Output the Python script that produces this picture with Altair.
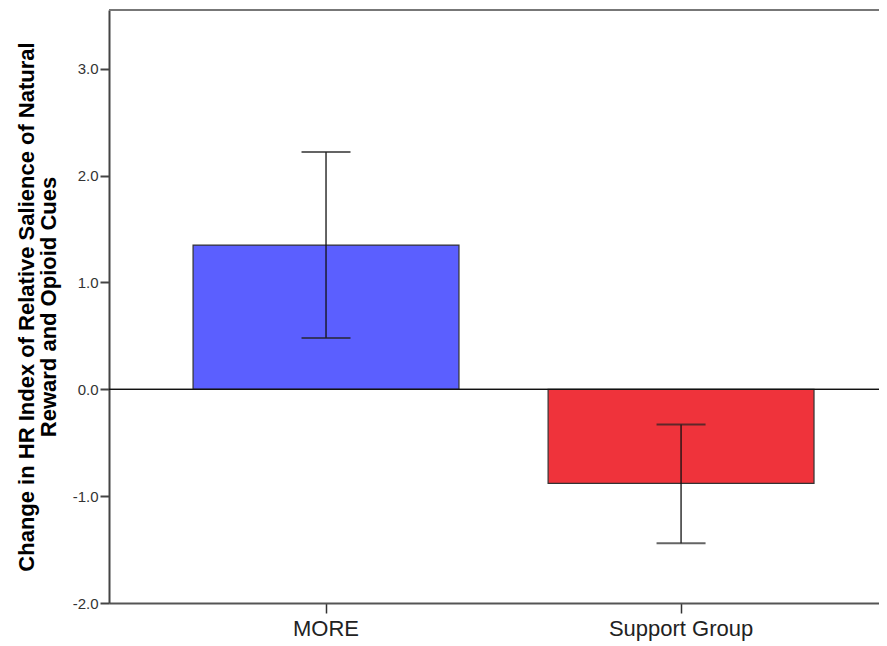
import altair as alt
import pandas as pd

groups = ["MORE", "Support Group"]
means = [1.35, -0.88]
lower = [0.48, -1.44]
upper = [2.22, -0.33]
colors = ["#5B5FFF", "#EF333B"]

df = pd.DataFrame({"group": groups, "mean": means, "lo": lower, "hi": upper, "color": colors})
top_df = pd.DataFrame({"top": [3.55]})

x_enc = alt.X("group:N", sort=groups, title=None,
              scale=alt.Scale(paddingInner=0.251, paddingOuter=0.2099, align=0.564),
              axis=alt.Axis(labelAngle=0, labelFontSize=22, labelColor="#222", labelFont="Liberation Sans",
                            tickSize=10, tickColor="#333", tickWidth=1.5, domainColor="#555", domainWidth=2,
                            labelPadding=5))
y_scale = alt.Scale(domain=[-2, 3.55], nice=False, zero=False)

bars = alt.Chart(df).mark_bar(stroke="#333", strokeWidth=1.2).encode(
    x=x_enc,
    y=alt.Y("mean:Q", scale=y_scale,
            title=["Change in HR Index of Relative Salience of Natural", "Reward and Opioid Cues"],
            axis=alt.Axis(values=[-2, -1, 0, 1, 2, 3], format=".1f", grid=False,
                          labelExpr="replace(datum.label, '\u2212', '-')",
                          labelFontSize=15, labelColor="#333", labelFont="Liberation Sans",
                          tickSize=9, tickColor="#444", tickWidth=2, domainColor="#444", domainWidth=2,
                          titleFontSize=22, titleFont="Liberation Sans", titleFontWeight="bold",
                          titleColor="#000", titlePadding=12, titleLineHeight=22, labelPadding=2)),
    y2=alt.datum(0),
    color=alt.Color("color:N", scale=None),
)

top_line = alt.Chart(top_df).mark_rule(color="#777", strokeWidth=2).encode(y="top:Q")
zero = alt.Chart(df).mark_rule(color="#111", strokeWidth=1.2).encode(y=alt.datum(0))

err = alt.Chart(df).mark_rule(color="#111", strokeWidth=1.3).encode(
    x=alt.X("group:N", sort=groups), y="lo:Q", y2="hi:Q")
cap_lo = alt.Chart(df).mark_tick(color="#222", thickness=2, size=49).encode(
    x=alt.X("group:N", sort=groups), y="lo:Q")
cap_hi = alt.Chart(df).mark_tick(color="#222", thickness=2, size=49).encode(
    x=alt.X("group:N", sort=groups), y="hi:Q")

chart = alt.layer(bars, top_line, zero, err, cap_lo, cap_hi).properties(
    width=770, height=593,
    autosize="none",
    padding={"left": 101, "top": 2, "right": 0, "bottom": 40},
).configure_view(fill="#EFEFEF", stroke=None).configure(background="white")

chart.save("out.html", embed_options={"renderer": "svg", "actions": False})
